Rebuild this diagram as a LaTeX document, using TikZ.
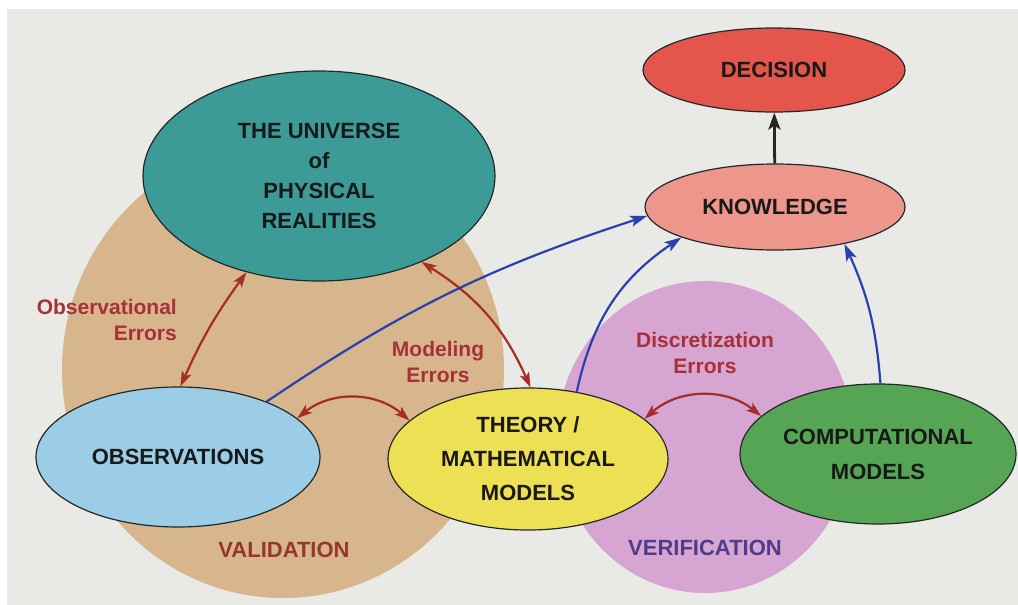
\documentclass[tikz,border=0pt]{standalone}
\usepackage{fontspec}
\setmainfont{Liberation Sans}
\usetikzlibrary{shapes.geometric,arrows.meta}
\definecolor{page}{RGB}{233,233,230}
\definecolor{tanbg}{RGB}{215,182,142}
\definecolor{purplebg}{RGB}{215,165,210}
\definecolor{univfill}{RGB}{60,155,150}
\definecolor{obsfill}{RGB}{155,205,230}
\definecolor{theoryfill}{RGB}{238,224,85}
\definecolor{compfill}{RGB}{85,165,85}
\definecolor{knowfill}{RGB}{236,150,140}
\definecolor{decfill}{RGB}{228,85,75}
\definecolor{outline}{RGB}{35,40,40}
\definecolor{arrowred}{RGB}{165,45,40}
\definecolor{arrowblue}{RGB}{40,65,175}
\definecolor{labelred}{RGB}{168,48,55}
\definecolor{valtext}{RGB}{150,55,45}
\definecolor{vertext}{RGB}{80,60,140}
\begin{document}
\begin{tikzpicture}[x=1pt,y=-1pt,
  blob/.style={ellipse, draw=outline, line width=1.2pt, inner sep=0pt, align=center,
    font=\bfseries\fontsize{22}{30}\selectfont, text=black!90},
  region/.style={ellipse, inner sep=0pt},
  errlabel/.style={font=\bfseries\fontsize{21}{26}\selectfont, text=labelred, inner sep=0pt},
  arealabel/.style={font=\bfseries\fontsize{22}{26}\selectfont, inner sep=0pt},
  redarrow/.style={draw=arrowred, line width=2.2pt,
    {Stealth[length=15pt,width=10pt,inset=3.5pt]}-{Stealth[length=15pt,width=10pt,inset=3.5pt]}},
  bluearrow/.style={draw=arrowblue, line width=2.2pt,
    -{Stealth[length=17pt,width=11pt,inset=4pt]}},
  blackarrow/.style={draw=black!85, line width=2.8pt,
    -{Stealth[length=17pt,width=12pt,inset=4pt]}}]
\useasboundingbox (0,0) rectangle (1018,605);
\fill[white] (0,0) rectangle (1018,605);
\fill[page] (7,9) rectangle (1018,605);

% background regions
\node[region, fill=tanbg, minimum width=442pt, minimum height=456pt] (val) at (283,370) {};
\node[region, fill=purplebg, minimum width=296pt, minimum height=312pt] (ver) at (705,437) {};

% main nodes
\node[blob, fill=univfill, minimum width=352pt, minimum height=210pt] (univ) at (319,176)
  {THE UNIVERSE\\of\\PHYSICAL\\REALITIES};
\node[blob, fill=obsfill, minimum width=284pt, minimum height=140pt] (obs) at (178,457)
  {OBSERVATIONS};
\node[blob, fill=theoryfill, minimum width=280pt, minimum height=142pt,
  font=\bfseries\fontsize{22}{34}\selectfont] (theory) at (528,459)
  {THEORY /\\MATHEMATICAL\\MODELS};
\node[blob, fill=compfill, minimum width=276pt, minimum height=140pt,
  font=\bfseries\fontsize{22}{35}\selectfont] (comp) at (878,454)
  {COMPUTATIONAL\\MODELS};
\node[blob, fill=knowfill, minimum width=260pt, minimum height=86pt] (kn) at (775,207)
  {KNOWLEDGE};
\node[blob, fill=decfill, minimum width=262pt, minimum height=84pt] (dec) at (774,70)
  {DECISION};

% labels
\node[errlabel, align=right, anchor=east] (obserr) at (177,320) {Observational\\Errors};
\node[errlabel, align=center] (moderr) at (438,362) {Modeling\\Errors};
\node[errlabel, align=center] (discerr) at (705,353) {Discretization\\Errors};
\node[arealabel, text=valtext] (vallab) at (284,550) {VALIDATION};
\node[arealabel, text=vertext] (verlab) at (705,548) {VERIFICATION};

% red double arrows
\draw[redarrow] (obs.88) to[bend left=6] (univ.233);
\draw[redarrow] (univ.320) to[bend left=17] (theory.88);
\draw[redarrow] (obs.18) to[bend left=40] (theory.162);
\draw[redarrow] (theory.19) to[bend left=40] (comp.162);

% blue arrows
\draw[bluearrow] (obs.32) to[bend left=8] (kn.184);
\draw[bluearrow] (theory.54) to[bend left=22] (kn.198);
\draw[bluearrow] (comp.88) to[bend right=10] (kn.332);

% black arrow
\draw[blackarrow] (kn) -- (dec);
\end{tikzpicture}
\end{document}
